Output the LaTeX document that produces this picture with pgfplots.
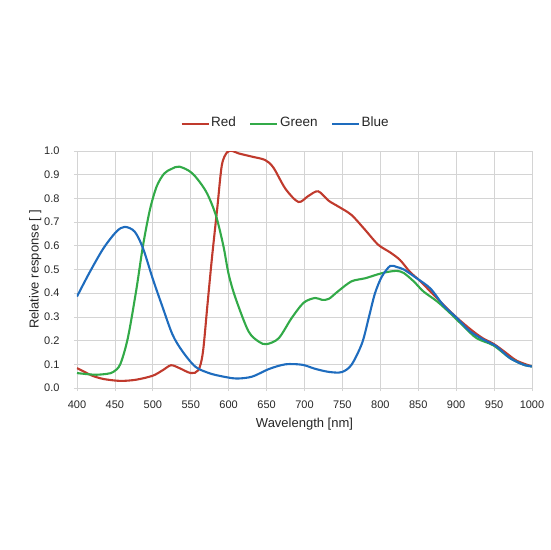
\documentclass[border=0pt]{standalone}
\usepackage{fontspec}
\setmainfont{Liberation Sans}
\usepackage{pgfplots}
\pgfplotsset{compat=1.18}
\definecolor{cred}{RGB}{192,58,45}
\definecolor{cgreen}{RGB}{50,170,72}
\definecolor{cblue}{RGB}{30,108,190}
\definecolor{gridc}{RGB}{212,212,212}
\begin{document}
\begin{tikzpicture}[x=1pt,y=1pt]
\useasboundingbox (-77,-162) rectangle (473,388);
\begin{axis}[
  at={(0,0)}, anchor=south west,
  scale only axis, width=455pt, height=237pt,
  xmin=400, xmax=1000, ymin=0, ymax=1,
  xtick={400,450,...,1000},
  ytick={0,0.1,...,1.0},
  grid=major,
  major grid style={gridc, line width=0.8pt},
  axis line style={gridc, line width=0.8pt},
  tick style={gridc, line width=0.8pt},
  tick align=outside, major tick length=3pt,
  tick pos=left,
  /pgf/number format/assume math mode=true,
  yticklabel style={/pgf/number format/fixed, /pgf/number format/fixed zerofill, /pgf/number format/precision=1, xshift=-11pt},
  xticklabel style={/pgf/number format/set thousands separator={}, yshift=-6pt},
  ticklabel style={font=\fontsize{11}{13}\selectfont, text=black!85},
  xlabel={Wavelength [nm]}, ylabel={Relative response [ ]},
  label style={font=\fontsize{13}{15}\selectfont, text=black!85},
  xlabel shift=3pt,
  ylabel shift=-4pt,
  legend columns=-1,
  legend style={draw=none, fill=none, at={(0.458,1.114)}, anchor=center, font=\fontsize{13.5}{15}\selectfont, text=black!85, /tikz/every even column/.append style={column sep=12pt}, nodes={inner xsep=1.5pt, text height=0.72em, text depth=0.22em}},
  legend image code/.code={\draw[#1] (0pt,0pt) -- (27pt,0pt);},
  every axis plot/.append style={line width=2.1pt, smooth, tension=0.5},
]
\addplot[cred] coordinates {
(400,0.084) (410,0.068) (420,0.052) (435,0.038) (457,0.03) (478,0.035) (500,0.052) (513,0.075) (524,0.096) (535,0.084) (550,0.063) (560,0.075) (566,0.15) (572,0.35) (578,0.55) (585,0.76) (591,0.94) (598,0.995) (605,1.0) (613,0.99) (631,0.976) (648,0.962) (659,0.93) (675,0.84) (692,0.785) (705,0.81) (718,0.83) (732,0.79) (745,0.765) (762,0.73) (780,0.667) (797,0.605) (813,0.572) (826,0.54) (839,0.49) (853,0.45) (866,0.407) (879,0.365) (892,0.323) (905,0.285) (920,0.245) (935,0.21) (950,0.185) (965,0.15) (980,0.115) (1000,0.091)
};
\addlegendentry{Red}
\addplot[cgreen] coordinates {
(400,0.063) (415,0.058) (426,0.056) (440,0.06) (448,0.068) (457,0.1) (467,0.21) (478,0.41) (487,0.6) (496,0.75) (505,0.85) (515,0.905) (525,0.925) (535,0.934) (552,0.906) (570,0.83) (583,0.73) (593,0.6) (600,0.48) (609,0.38) (626,0.24) (640,0.195) (650,0.185) (666,0.21) (683,0.295) (699,0.36) (714,0.38) (723,0.372) (732,0.376) (745,0.41) (762,0.45) (780,0.463) (797,0.48) (810,0.49) (822,0.494) (831,0.485) (844,0.45) (857,0.407) (875,0.365) (892,0.316) (910,0.26) (927,0.21) (949,0.18) (971,0.126) (989,0.098) (1000,0.091)
};
\addlegendentry{Green}
\addplot[cblue] coordinates {
(400,0.386) (417,0.49) (435,0.59) (452,0.66) (463,0.68) (476,0.66) (487,0.59) (500,0.46) (513,0.34) (526,0.225) (539,0.155) (556,0.09) (574,0.063) (590,0.05) (610,0.04) (631,0.048) (653,0.08) (675,0.10) (697,0.098) (714,0.081) (732,0.068) (749,0.067) (762,0.098) (776,0.19) (785,0.30) (793,0.40) (802,0.47) (813,0.515) (822,0.51) (831,0.50) (848,0.463) (866,0.42) (883,0.35) (901,0.295) (918,0.24) (936,0.204) (953,0.176) (971,0.126) (989,0.098) (1000,0.091)
};
\addlegendentry{Blue}
\end{axis}
\end{tikzpicture}
\end{document}
